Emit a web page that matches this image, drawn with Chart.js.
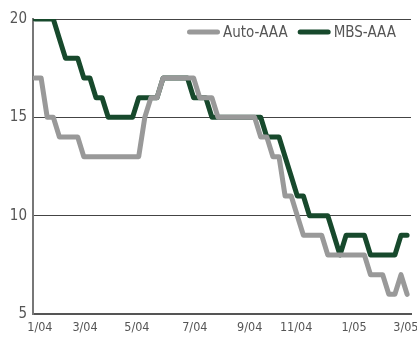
<!DOCTYPE html>
<html>
<head>
<meta charset="utf-8">
<script src="https://cdn.jsdelivr.net/npm/chart.js@4.4.1/dist/chart.umd.min.js"></script>
<style>
  html, body { margin: 0; padding: 0; background: #fff; }
  #wrap { width: 417px; height: 341px; position: relative; }
</style>
</head>
<body>
<div id="wrap"><canvas id="c"></canvas></div>
<script>
// Weekly AAA spreads (bp), first week of Jan 2004 through early Mar 2005
const seriesNames = ['Auto-AAA', 'MBS-AAA'];
const autoAAA = [17, 17, 15, 15, 14, 14, 14, 14, 13, 13, 13, 13, 13, 13, 13, 13, 13, 13, 15, 16,
                 16, 17, 17, 17, 17, 17, 17, 16, 16, 16, 15, 15, 15, 15, 15, 15, 15, 14, 14, 13,
                 13, 11, 11, 10, 9, 9, 9, 9, 8, 8, 8, 8, 8, 8, 8, 7, 7, 7, 6, 6,
                 7, 6];
const mbsAAA  = [20, 20, 20, 20, 19, 18, 18, 18, 17, 17, 16, 16, 15, 15, 15, 15, 15, 16, 16, 16,
                 16, 17, 17, 17, 17, 17, 16, 16, 16, 15, 15, 15, 15, 15, 15, 15, 15, 15, 14, 14,
                 14, 13, 12, 11, 11, 10, 10, 10, 10, 9, 8, 9, 9, 9, 9, 8, 8, 8, 8, 8,
                 9, 9];

// Month labels and the week positions where they sit
const xTickLabels = ['1/04', '3/04', '5/04', '7/04', '9/04', '11/04', '1/05', '3/05'];
const xTickWeeks  = [0.8, 8.2, 16.7, 26.2, 35.2, 42.8, 52.3, 60.8];
const yTicks = [5, 10, 15, 20];

const seriesColors = ['#999999', '#17492c'];
const FONT = "'Liberation Sans Narrow', 'DejaVu Sans Condensed', 'Arial Narrow', sans-serif";

function toPoints(values) {
  return values.map((v, i) => ({ x: i, y: v }));
}

// Legend drawn inside the plot, top right
const insideLegend = {
  id: 'insideLegend',
  afterDatasetsDraw(chart, args, opts) {
    const ctx = chart.ctx;
    ctx.save();
    ctx.font = opts.fontSize + 'px ' + FONT;
    ctx.textBaseline = 'middle';
    ctx.textAlign = 'left';
    ctx.lineCap = 'round';
    ctx.lineWidth = 5;
    let x = opts.x;
    const y = opts.y;
    chart.data.datasets.forEach(ds => {
      ctx.strokeStyle = ds.borderColor;
      ctx.beginPath();
      ctx.moveTo(x + 2.5, y);
      ctx.lineTo(x + opts.sample - 2.5, y);
      ctx.stroke();
      ctx.fillStyle = '#555';
      ctx.fillText(ds.label, x + opts.sample + opts.textGap, y + 1);
      x += opts.sample + opts.textGap + ctx.measureText(ds.label).width + opts.gap;
    });
    ctx.restore();
  }
};

const lineStyle = {
  borderWidth: 5,
  pointRadius: 0,
  tension: 0,
  borderJoinStyle: 'round',
  borderCapStyle: 'round',
  fill: false
};

new Chart(document.getElementById('c'), {
  type: 'line',
  data: {
    datasets: [
      Object.assign({ label: seriesNames[0], data: toPoints(autoAAA), borderColor: seriesColors[0] }, lineStyle),
      Object.assign({ label: seriesNames[1], data: toPoints(mbsAAA), borderColor: seriesColors[1] }, lineStyle)
    ]
  },
  options: {
    responsive: true,
    maintainAspectRatio: false,
    animation: false,
    layout: { padding: { top: 19, right: 6, bottom: 0, left: 0 } },
    plugins: {
      legend: { display: false },
      tooltip: { enabled: false },
      insideLegend: { x: 187, y: 32, sample: 33, textGap: 3, gap: 10, fontSize: 15 }
    },
    scales: {
      x: {
        type: 'linear',
        min: -0.33,
        max: 61.64,
        afterBuildTicks: s => { s.ticks = xTickWeeks.map(v => ({ value: v })); },
        afterFit: s => { s.height = 27; s.paddingLeft = 0; s.paddingRight = 0; },
        ticks: {
          autoSkip: false,
          maxRotation: 0,
          padding: 6,
          color: '#555',
          font: { family: FONT, size: 12.5 },
          callback: (v, i) => xTickLabels[i]
        },
        grid: { display: false, drawTicks: false },
        border: { display: true, color: '#555', width: 2 }
      },
      y: {
        min: 5,
        max: 20,
        afterBuildTicks: s => { s.ticks = yTicks.map(v => ({ value: v })); },
        afterFit: s => { s.width = 33; },
        ticks: {
          padding: 6,
          color: '#555',
          font: { family: FONT, size: 15 }
        },
        grid: { color: '#444', lineWidth: 1, drawTicks: false },
        border: { color: '#777', width: 2 }
      }
    }
  },
  plugins: [insideLegend]
});
</script>
</body>
</html>
